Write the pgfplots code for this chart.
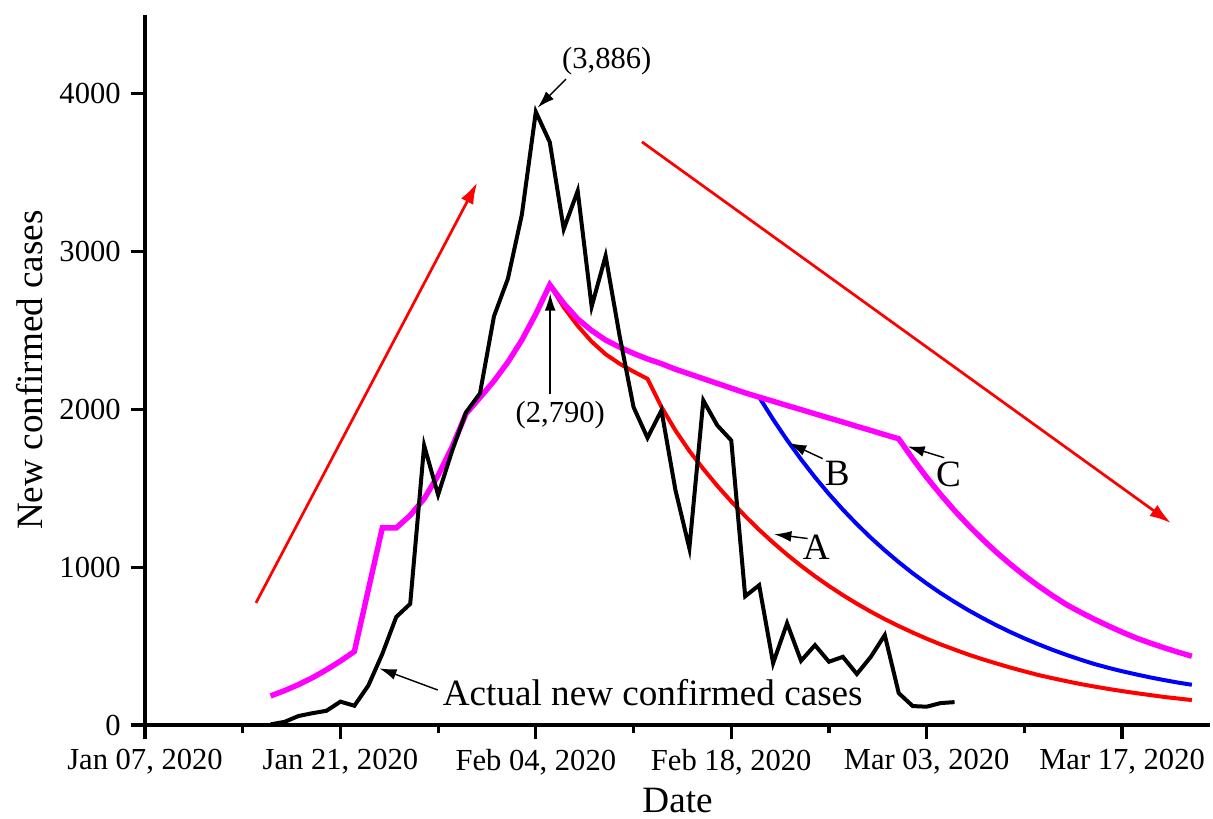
\documentclass[border=0pt]{standalone}
\usepackage{fontspec}
\setmainfont{Liberation Serif}
\usepackage{pgfplots}
\usepackage{pgfplotstable}
\pgfplotsset{compat=1.18}
\usetikzlibrary{arrows.meta}

\definecolor{cRed}{RGB}{255,0,0}
\definecolor{cBlue}{RGB}{0,0,255}
\definecolor{cMag}{RGB}{255,0,255}

% day 0 = Jan 07, 2020
\pgfplotstableread{
day cases
9 4
10 20
11 57
12 75
13 90
14 148
15 122
16 250
17 450
18 685
19 768
20 1771
21 1459
22 1737
23 1982
24 2102
25 2590
26 2829
27 3235
28 3886
29 3694
30 3143
31 3385
32 2652
33 2973
34 2467
35 2015
36 1820
37 1994
38 1490
39 1120
40 2057
41 1899
42 1804
43 816
44 886
45 392
46 645
47 407
48 506
49 401
50 432
51 323
52 432
53 570
54 202
55 120
56 116
57 139
58 145
}\actual

\pgfplotstableread{
day cases
29 2790
30 2648
31 2530
32 2430
33 2350
34 2290
35 2240
36 2194
37 2016
38 1867
39 1737
40 1623
41 1516
42 1417
43 1324
44 1237
45 1156
46 1080
47 1009
48 943
49 881
50 823
51 769
52 718
53 671
54 627
55 586
56 547
57 511
58 478
59 446
60 417
61 390
62 364
63 340
64 317
65 297
66 278
67 260
68 244
69 229
70 215
71 202
72 190
73 178
74 168
75 158
}\modelA

\pgfplotstableread{
day cases
44 2078
45 1937
46 1806
47 1684
48 1570
49 1464
50 1365
51 1273
52 1187
53 1107
54 1032
55 962
56 897
57 836
58 780
59 727
60 678
61 632
62 589
63 549
64 512
65 477
66 445
67 415
68 387
69 363
70 341
71 321
72 302
73 285
74 269
75 255
}\modelB

\pgfplotstableread{
day cases
9 184
10 218
11 256
12 300
13 350
14 405
15 466
17 1249
18 1249
19 1329
20 1434
21 1582
22 1762
23 1973
24 2075
25 2180
26 2300
27 2440
28 2605
29 2790
30 2672
31 2574
32 2500
33 2440
34 2395
35 2355
36 2320
37 2290
38 2255
39 2225
40 2195
41 2165
42 2135
43 2105
44 2078
45 2052
46 2025
47 1999
48 1972
49 1946
50 1920
51 1893
52 1867
53 1840
54 1814
55 1688
56 1570
57 1461
58 1359
59 1265
60 1177
61 1095
62 1019
63 948
64 882
65 821
66 764
67 716
68 671
69 629
70 589
71 552
72 520
73 490
74 462
75 436
}\modelC

\begin{document}
\begin{tikzpicture}
\begin{axis}[
  scale only axis,
  width=372.75pt, height=248.5pt,
  xmin=0, xmax=76.3, ymin=0, ymax=4500,
  axis x line=bottom, axis y line=left,
  axis line style={-, line width=1.1pt},
  tick align=outside,
  major tick length=5pt, minor tick length=2.8pt,
  tick style={line width=1.1pt, black},
  xtick={0,14,28,42,56,70},
  minor xtick={7,21,35,49,63},
  xticklabels={{Jan 07, 2020},{Jan 21, 2020},{Feb 04, 2020},{Feb 18, 2020},{Mar 03, 2020},{Mar 17, 2020}},
  ytick={0,1000,2000,3000,4000},
  ticklabel style={font=\fontsize{10.7}{12}\selectfont},
  /pgf/number format/assume math mode=true,
  /pgf/number format/1000 sep={},
  xlabel={Date}, ylabel={New confirmed cases},
  label style={font=\fontsize{13}{15}\selectfont},
  xlabel style={at={(axis description cs:0.5,-0.106)}, anchor=center},
  ylabel style={at={(axis description cs:-0.108,0.5)}, anchor=center},
  clip=false,
]
\addplot[cRed, line width=1.4pt] table[x=day, y=cases]{\modelA};
\addplot[cBlue, line width=1.4pt] table[x=day, y=cases]{\modelB};
\addplot[cMag, line width=1.9pt] table[x=day, y=cases]{\modelC};
\addplot[black, line width=1.4pt] table[x=day, y=cases]{\actual};

% trend arrows
\draw[cRed, line width=0.95pt, -{Latex[length=7.5pt,width=4.8pt]}] (axis cs:7.95,774) -- (axis cs:23.8,3438);
\draw[cRed, line width=0.95pt, -{Latex[length=7.5pt,width=4.8pt]}] (axis cs:35.6,3696) -- (axis cs:73.5,1280);

% annotations
\def\annfont{\fontsize{10.7}{12}\selectfont}
\def\bigfont{\fontsize{13}{15}\selectfont}
\node[font=\annfont, inner sep=0pt] at (axis cs:33.08,4209) {(3,886)};
\draw[line width=0.5pt, -{Latex[length=6pt,width=3.8pt]}] (axis cs:30.16,4093) -- (axis cs:28.13,3913);
\node[font=\annfont, inner sep=0pt] at (axis cs:29.75,1962) {(2,790)};
\draw[line width=0.5pt, -{Latex[length=6pt,width=3.8pt]}] (axis cs:29.03,2099) -- (axis cs:29.03,2735);
\node[font=\bigfont, inner sep=0pt] at (axis cs:48.1,1128) {A};
\draw[line width=0.5pt, -{Latex[length=6pt,width=3.8pt]}] (axis cs:47.47,1182) -- (axis cs:45.08,1209);
\node[font=\bigfont, inner sep=0pt] at (axis cs:49.6,1596) {B};
\draw[line width=0.5pt, -{Latex[length=6pt,width=3.8pt]}] (axis cs:48.55,1688) -- (axis cs:46.15,1787);
\node[font=\bigfont, inner sep=0pt] at (axis cs:57.56,1589) {C};
\draw[line width=0.5pt, -{Latex[length=6pt,width=3.8pt]}] (axis cs:57.26,1694) -- (axis cs:54.63,1766);
\node[font=\bigfont, inner sep=0pt, anchor=west] at (axis cs:21.3,206) {Actual new confirmed cases};
\draw[line width=0.5pt, -{Latex[length=6pt,width=3.8pt]}] (axis cs:20.97,222) -- (axis cs:16.79,359);
\end{axis}
\pgfresetboundingbox
\path (-50.75pt,-32.55pt) rectangle (373.8pt,253.75pt);
\end{tikzpicture}
\end{document}
